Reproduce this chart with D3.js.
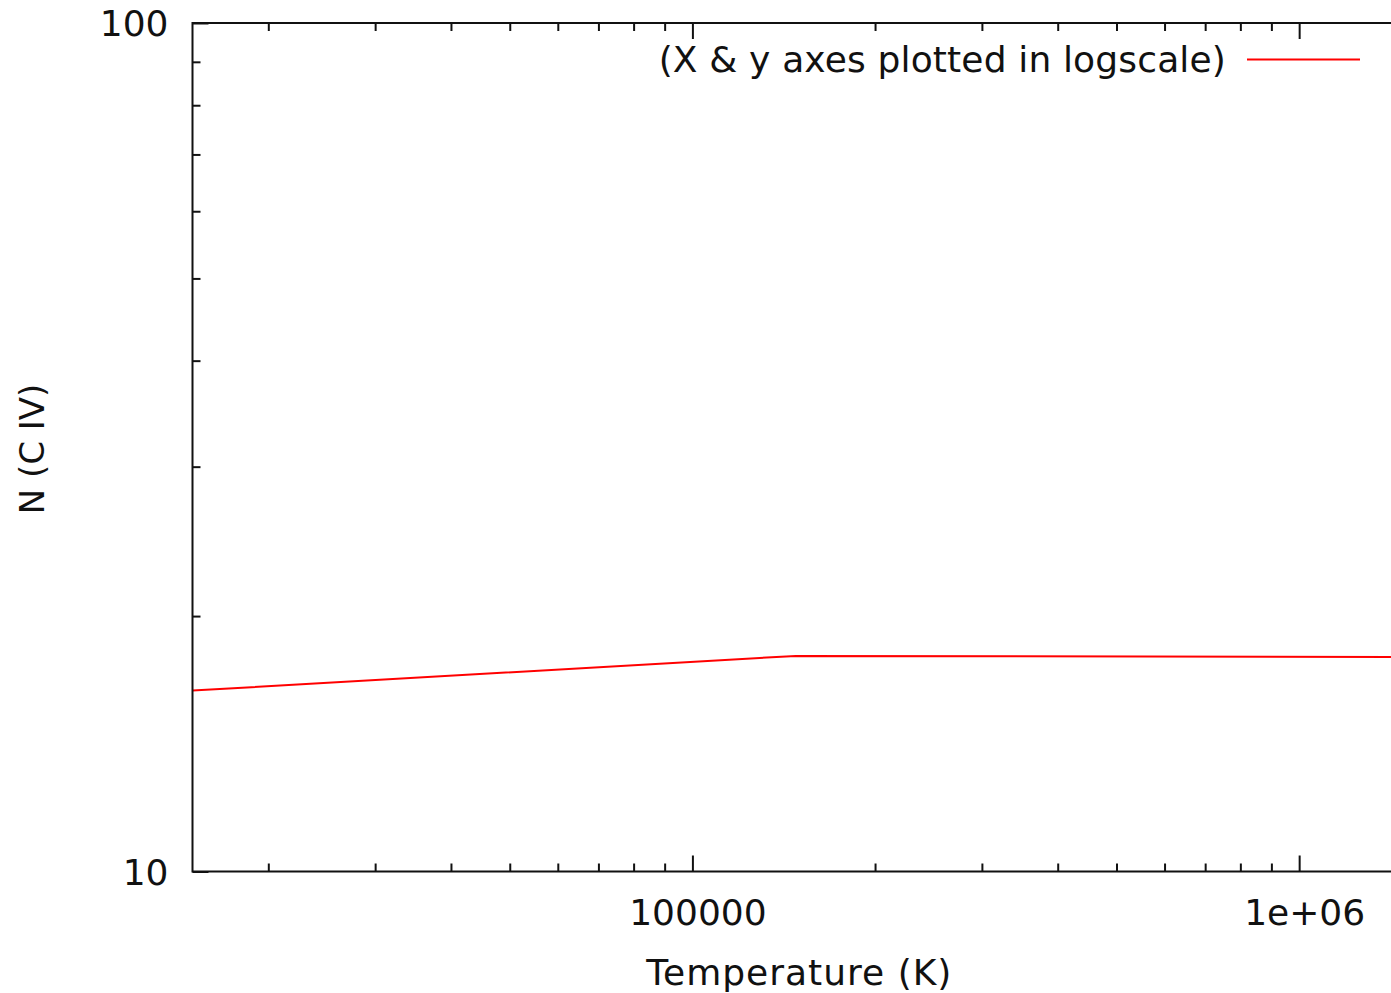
<!DOCTYPE html>
<html>
<head>
<meta charset="utf-8">
<script src="https://cdn.jsdelivr.net/npm/d3@7"></script>
<style>
  html, body { margin: 0; padding: 0; background: #fff; overflow: hidden; }
  svg { display: block; font-family: "DejaVu Sans", sans-serif; }
</style>
</head>
<body>
<svg id="chart" width="1391" height="993"></svg>
<script>
// C IV column density against temperature (both axes logarithmic)
const temperature = [15000, 148000, 1500000];
const columnCIV = [16.34, 17.95, 17.9];

const xDomain = [15000, 1500000];
const yDomain = [10, 100];
const xMajorTicks = [1e5, 1e6];
const xTickLabels = ["100000", "1e+06"];
const yMajorTicks = [10, 100];
const yTickLabels = ["10", "100"];

const xLabel = "Temperature (K)";
const yLabel = "N (C IV)";
const legendLabel = "(X & y axes plotted in logscale)";

const W = 1391, H = 993;
const margin = { left: 192.5, top: 23, right: 1406, bottom: 871.5 };
const fontSize = 36;

const svg = d3.select("#chart");

const x = d3.scaleLog().domain(xDomain).range([margin.left, margin.right]);
const y = d3.scaleLog().domain(yDomain).range([margin.bottom, margin.top]);

// minor ticks at 2..9 times each decade inside the domain
function minorTicks(scale) {
  const [a, b] = scale.domain();
  const out = [];
  for (let e = Math.floor(Math.log10(a)); e <= Math.ceil(Math.log10(b)); e++) {
    for (let m = 2; m <= 9; m++) {
      const v = m * Math.pow(10, e);
      if (v > a && v < b) out.push(v);
    }
  }
  return out;
}
const xMinor = minorTicks(x);
const yMinor = minorTicks(y);

const majorLen = 16, minorLen = 8;
const axisColor = "#111";

// data line, clipped to the plot box
svg.append("defs").append("clipPath").attr("id", "plotClip")
  .append("rect")
  .attr("x", margin.left).attr("y", margin.top)
  .attr("width", margin.right - margin.left)
  .attr("height", margin.bottom - margin.top);

const line = d3.line()
  .x((d, i) => x(temperature[i]))
  .y(d => y(d));

svg.append("path")
  .datum(columnCIV)
  .attr("clip-path", "url(#plotClip)")
  .attr("fill", "none")
  .attr("stroke", "#ff0000")
  .attr("stroke-width", 2)
  .attr("d", line);

// inward-pointing ticks drawn with d3 axes
function styleAxis(g) {
  g.select(".domain").remove();
  g.selectAll(".tick line").attr("stroke", axisColor).attr("stroke-width", 2);
}

// bottom
svg.append("g").attr("transform", `translate(0,${margin.bottom})`)
  .call(d3.axisBottom(x).tickValues(xMinor).tickSize(-minorLen).tickFormat(""))
  .call(styleAxis);
const xAxisMajor = svg.append("g").attr("transform", `translate(0,${margin.bottom})`)
  .call(d3.axisBottom(x).tickValues(xMajorTicks).tickSize(-majorLen)
    .tickFormat((d, i) => xTickLabels[i]))
  .call(styleAxis);
xAxisMajor.selectAll(".tick text")
  .attr("y", 0).attr("dy", 0)
  .attr("transform", "translate(5,53)")
  .attr("fill", "#111")
  .style("font-size", fontSize + "px")
  .style("font-family", "DejaVu Sans, sans-serif");

// top (mirror)
svg.append("g").attr("transform", `translate(0,${margin.top})`)
  .call(d3.axisTop(x).tickValues(xMinor).tickSize(-minorLen).tickFormat(""))
  .call(styleAxis);
svg.append("g").attr("transform", `translate(0,${margin.top})`)
  .call(d3.axisTop(x).tickValues(xMajorTicks).tickSize(-majorLen).tickFormat(""))
  .call(styleAxis);

// left
svg.append("g").attr("transform", `translate(${margin.left},0)`)
  .call(d3.axisLeft(y).tickValues(yMinor).tickSize(-minorLen).tickFormat(""))
  .call(styleAxis);
const yAxisMajor = svg.append("g").attr("transform", `translate(${margin.left},0)`)
  .call(d3.axisLeft(y).tickValues(yMajorTicks).tickSize(-majorLen)
    .tickFormat((d, i) => yTickLabels[i]))
  .call(styleAxis);
yAxisMajor.selectAll(".tick text")
  .attr("x", -24).attr("dy", "0.36em")
  .attr("fill", "#111")
  .style("font-size", fontSize + "px")
  .style("font-family", "DejaVu Sans, sans-serif");

// border: left, top, bottom (right side runs past the window edge)
svg.append("path")
  .attr("fill", "none")
  .attr("stroke", axisColor)
  .attr("stroke-width", 2)
  .attr("d", `M${margin.right},${margin.top}H${margin.left}V${margin.bottom}H${margin.right}`);

// axis titles
svg.append("text")
  .attr("x", (margin.left + margin.right) / 2)
  .attr("y", 985)
  .attr("text-anchor", "middle")
  .attr("fill", "#111")
  .style("font-size", fontSize + "px")
  .style("letter-spacing", "1px")
  .text(xLabel);

svg.append("text")
  .attr("transform", `translate(44,449) rotate(-90)`)
  .attr("text-anchor", "middle")
  .attr("fill", "#111")
  .style("font-size", "34px")
  .text(yLabel);

// key
svg.append("text")
  .attr("x", 1226)
  .attr("y", 72)
  .attr("text-anchor", "end")
  .attr("fill", "#111")
  .style("font-size", fontSize + "px")
  .style("letter-spacing", "0.15px")
  .text(legendLabel);
svg.append("line")
  .attr("x1", 1247).attr("x2", 1360)
  .attr("y1", 59.5).attr("y2", 59.5)
  .attr("stroke", "#ff0000")
  .attr("stroke-width", 2);
</script>
</body>
</html>
